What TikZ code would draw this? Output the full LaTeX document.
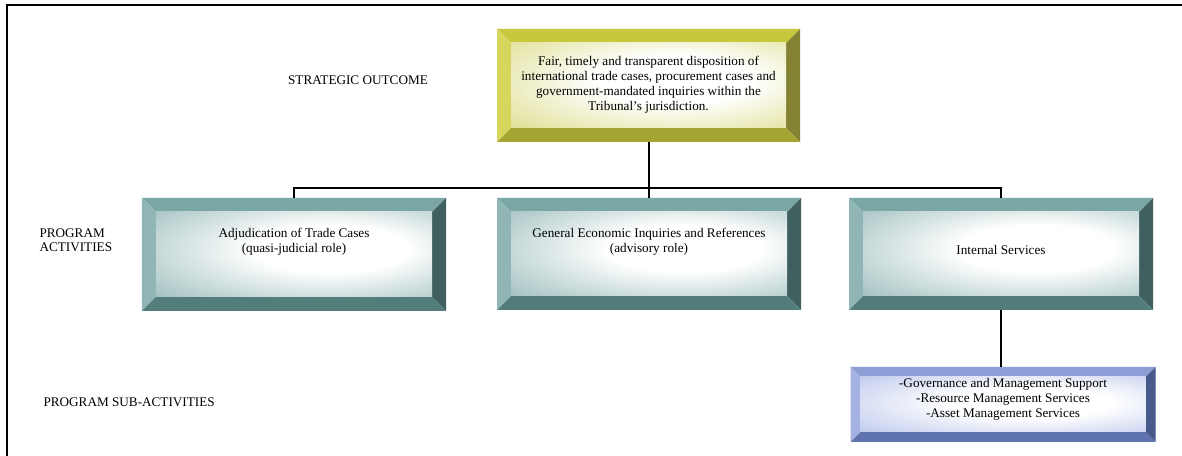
\documentclass[tikz,border=0pt]{standalone}
\usepackage{fontspec}
\setmainfont{Liberation Serif}
\usetikzlibrary{calc}
\definecolor{tealT}{RGB}{122,166,164}
\definecolor{tealL}{RGB}{143,182,180}
\definecolor{tealR}{RGB}{63,96,95}
\definecolor{tealB}{RGB}{82,125,123}
\definecolor{tealI}{RGB}{140,178,177}
\definecolor{oliveT}{RGB}{200,200,60}
\definecolor{oliveL}{RGB}{214,214,92}
\definecolor{oliveR}{RGB}{130,130,50}
\definecolor{oliveB}{RGB}{165,165,52}
\definecolor{oliveI}{RGB}{215,215,120}
\definecolor{blueT}{RGB}{140,158,214}
\definecolor{blueL}{RGB}{165,178,225}
\definecolor{blueR}{RGB}{72,90,140}
\definecolor{blueB}{RGB}{95,115,175}
\definecolor{blueI}{RGB}{172,186,232}
\pgfdeclareradialshading{olivesh}{\pgfpoint{6bp}{4bp}}{color(0bp)=(white); color(14bp)=(white); color(46bp)=(oliveI); color(80bp)=(oliveI)}
\pgfdeclareradialshading{tealsh}{\pgfpoint{8bp}{4bp}}{color(0bp)=(white); color(14bp)=(white); color(46bp)=(tealI); color(80bp)=(tealI)}
\pgfdeclareradialshading{bluesh}{\pgfpoint{6bp}{2bp}}{color(0bp)=(white); color(14bp)=(white); color(46bp)=(blueI); color(80bp)=(blueI)}
\newcommand\bevelbox[7]{%
 \fill[#3] (#1.north west) -- (#1.north east) -- ([xshift=-#2,yshift=-#2]#1.north east) -- ([xshift=#2,yshift=-#2]#1.north west) -- cycle;
 \fill[#4] (#1.north west) -- ([xshift=#2,yshift=-#2]#1.north west) -- ([xshift=#2,yshift=#2]#1.south west) -- (#1.south west) -- cycle;
 \fill[#5] (#1.north east) -- (#1.south east) -- ([xshift=-#2,yshift=#2]#1.south east) -- ([xshift=-#2,yshift=-#2]#1.north east) -- cycle;
 \fill[#6] (#1.south west) -- ([xshift=#2,yshift=#2]#1.south west) -- ([xshift=-#2,yshift=#2]#1.south east) -- (#1.south east) -- cycle;
 \shade[shading=#7] ([xshift=#2,yshift=-#2]#1.north west) rectangle ([xshift=-#2,yshift=#2]#1.south east);
}
\tikzset{
 boxshape/.style={rectangle, inner sep=0pt, outer sep=0pt, minimum width=#1},
 boxtext/.style={align=center, font=\fontsize{13.2bp}{15bp}\selectfont, text=black},
 lbl/.style={align=left, font=\fontsize{13.2bp}{14bp}\selectfont, text=black},
 conn/.style={draw=black, line width=2bp},
}
\begin{document}
\begin{tikzpicture}[x=1bp,y=-1bp]
\useasboundingbox (0,0) rectangle (1182,456);
\fill[white] (0,0) rectangle (1182,456);
\draw[line width=2.2bp] (7,456) -- (7,5) -- (1182,5);
% boxes
\node[boxshape=303bp, minimum height=113bp] (so) at (648.5,85.5) {};
\node[boxshape=304bp, minimum height=113bp] (adj) at (294,254.5) {};
\node[boxshape=304bp, minimum height=112bp] (gei) at (649,254) {};
\node[boxshape=304bp, minimum height=112bp] (isv) at (1001,254) {};
\node[boxshape=305bp, minimum height=75bp] (sub) at (1003,404.5) {};
\bevelbox{so}{14bp}{oliveT}{oliveL}{oliveR}{oliveB}{olivesh}
\bevelbox{adj}{14bp}{tealT}{tealL}{tealR}{tealB}{tealsh}
\bevelbox{gei}{14bp}{tealT}{tealL}{tealR}{tealB}{tealsh}
\bevelbox{isv}{14bp}{tealT}{tealL}{tealR}{tealB}{tealsh}
\bevelbox{sub}{10bp}{blueT}{blueL}{blueR}{blueB}{bluesh}
% texts
\node[boxtext] (sot) at (648.5,85) {Fair, timely and transparent disposition of\\international trade cases, procurement cases and\\government-mandated inquiries within the\\Tribunal's jurisdiction.};
\node[boxtext] (adjt) at (294,242) {Adjudication of Trade Cases\\(quasi-judicial role)};
\node[boxtext] (geit) at (649,242) {General Economic Inquiries and References\\(advisory role)};
\node[boxtext] (isvt) at (1001,250) {Internal Services};
\node[boxtext] (subt) at (1003,399) {-Governance and Management Support\\-Resource Management Services\\-Asset Management Services};
% labels
\node[lbl] (l1) at (358,80) {STRATEGIC OUTCOME};
\node[lbl, anchor=west] (l2) at (36,240) {PROGRAM\\ACTIVITIES};
\node[lbl, anchor=west] (l3) at (40,402) {PROGRAM SUB-ACTIVITIES};
% connectors
\coordinate (bus) at (0,188);
\draw[conn] (so.south) -- (so.south |- bus);
\draw[conn] (adj.north) -- (adj.north |- bus) -| (isv.north);
\draw[conn] (gei.north) -- (gei.north |- bus);
\draw[conn] (isv.south) -- (isv.south |- sub.north);
\end{tikzpicture}
\end{document}
